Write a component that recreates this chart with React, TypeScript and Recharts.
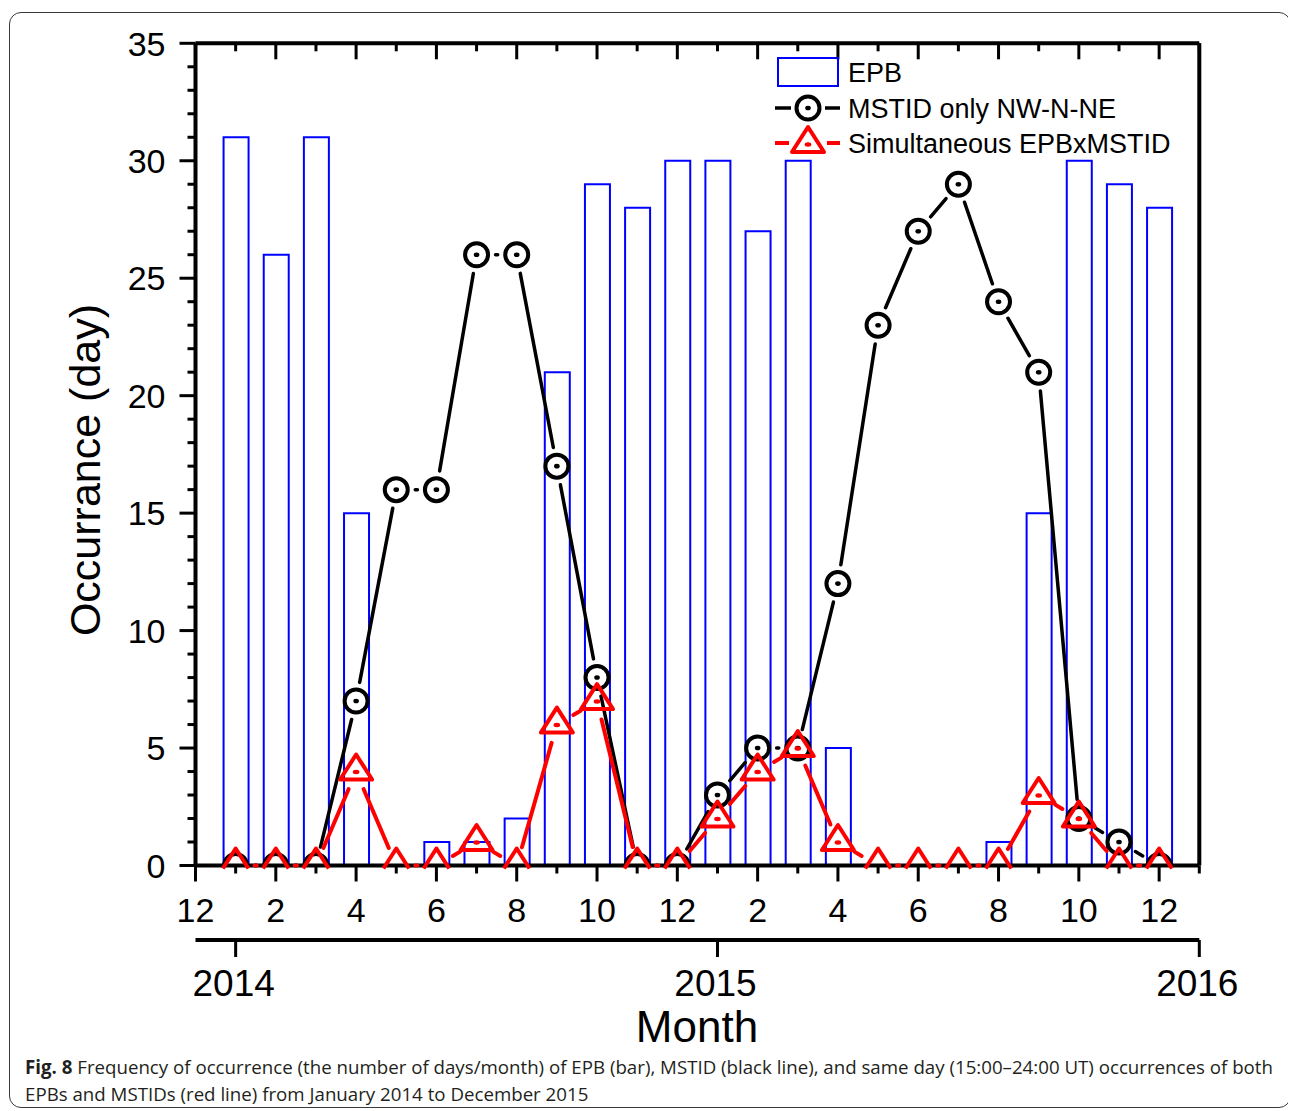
import React from 'react';
import { ComposedChart, Bar, Line, XAxis, YAxis } from 'recharts';

// ---- data ----
// month index: 1 = Jan 2014 ... 24 = Dec 2015 (0 = Dec 2013, 25 = Jan 2016)
const months = [1, 2, 3, 4, 5, 6, 7, 8, 9, 10, 11, 12, 13, 14, 15, 16, 17, 18, 19, 20, 21, 22, 23, 24];
const epbDays = [31, 26, 31, 15, 0, 1, 1, 2, 21, 29, 28, 30, 30, 27, 30, 5, 0, 0, 0, 1, 15, 30, 29, 28];
const mstidDays = [0, 0, 0, 7, 16, 16, 26, 26, 17, 8, 0, 0, 3, 5, 5, 12, 23, 27, 29, 24, 21, 2, 1, 0];
const simultaneousDays = [0, 0, 0, 4, 0, 0, 1, 0, 6, 7, 0, 0, 2, 4, 5, 1, 0, 0, 0, 0, 3, 2, 0, 0];

const monthAxisTicks = [0, 1, 2, 3, 4, 5, 6, 7, 8, 9, 10, 11, 12, 13, 14, 15, 16, 17, 18, 19, 20, 21, 22, 23, 24, 25];
const monthLabelTicks = [0, 2, 4, 6, 8, 10, 12, 14, 16, 18, 20, 22, 24];
const monthTickLabels = ['12', '2', '4', '6', '8', '10', '12', '2', '4', '6', '8', '10', '12'];
const yearTicks = [1, 13, 25];
const yearTickLabels = ['2014', '2015', '2016'];
const yAxisTicks = [0, 1, 2, 3, 4, 5, 6, 7, 8, 9, 10, 11, 12, 13, 14, 15, 16, 17, 18, 19, 20, 21, 22, 23, 24, 25, 26, 27, 28, 29, 30, 31, 32, 33, 34, 35];
const yMajorTicks = [0, 5, 10, 15, 20, 25, 30, 35];

const seriesNames = ['EPB', 'MSTID only NW-N-NE', 'Simultaneous EPBxMSTID'];
const yTitle = 'Occurrance (day)';
const xTitle = 'Month';

const data = months.map((m, i) => ({
  month: m,
  epb: epbDays[i],
  mstid: mstidDays[i],
  sim: simultaneousDays[i],
}));

// ---- styling ----
const FONT = '"Liberation Sans", Arial, Helvetica, sans-serif';
const BLUE = '#0000ff';
const RED = '#ff0000';
const BLACK = '#000000';
const AXIS_W = 4;
const TICK_W = 3;
const MAJOR_LEN = 16;
const MINOR_LEN = 8;
const GAP = 19;
const CIRCLE_R = 11.5;

const W = 1288;
const H = 1040;

// ---- ticks ----
const LeftTick = (props: any) => {
  const { x, y, payload } = props;
  const v = payload.value;
  const major = yMajorTicks.includes(v);
  return (
    <g>
      <line x1={x} x2={x - (major ? MAJOR_LEN : MINOR_LEN)} y1={y} y2={y} stroke={BLACK} strokeWidth={TICK_W} />
      {major && (
        <text x={x - 30} y={y} dy="0.36em" textAnchor="end" fontSize={34} fontFamily={FONT} fill={BLACK}>
          {v}
        </text>
      )}
    </g>
  );
};

const RightTick = (props: any) => {
  const { x, y, payload } = props;
  const major = yMajorTicks.includes(payload.value);
  return <line x1={x} x2={x - (major ? MAJOR_LEN : MINOR_LEN)} y1={y} y2={y} stroke={BLACK} strokeWidth={TICK_W} />;
};

const BottomTick = (props: any) => {
  const { x, y, payload } = props;
  const idx = monthLabelTicks.indexOf(payload.value);
  const major = idx >= 0;
  return (
    <g>
      <line x1={x} x2={x} y1={y} y2={y + (major ? MAJOR_LEN : MINOR_LEN)} stroke={BLACK} strokeWidth={TICK_W} />
      {major && (
        <text x={x} y={y + 56} textAnchor="middle" fontSize={34} fontFamily={FONT} fill={BLACK}>
          {monthTickLabels[idx]}
        </text>
      )}
    </g>
  );
};

const TopTick = (props: any) => {
  const { x, y, payload } = props;
  const major = monthLabelTicks.includes(payload.value);
  return <line x1={x} x2={x} y1={y} y2={y + (major ? MAJOR_LEN : MINOR_LEN)} stroke={BLACK} strokeWidth={TICK_W} />;
};

const YearTick = (props: any) => {
  const { x, y, payload } = props;
  const idx = yearTicks.indexOf(payload.value);
  return (
    <g>
      <line x1={x} x2={x} y1={y} y2={y + 17} stroke={BLACK} strokeWidth={TICK_W} />
      <text x={x - 2} y={y + 56} textAnchor="middle" fontSize={37} fontFamily={FONT} fill={BLACK}>
        {yearTickLabels[idx]}
      </text>
    </g>
  );
};

// ---- markers ----
const circleMarker = (cx: number, cy: number, zero: boolean, key?: string) => (
  <g key={key}>
    {zero ? (
      <path d={`M ${cx - CIRCLE_R} ${cy} A ${CIRCLE_R} ${CIRCLE_R} 0 0 1 ${cx + CIRCLE_R} ${cy}`} fill="none" stroke={BLACK} strokeWidth={4} />
    ) : (
      <>
        <circle cx={cx} cy={cy} r={CIRCLE_R} fill="none" stroke={BLACK} strokeWidth={4} />
        <ellipse cx={cx} cy={cy} rx={2.8} ry={2.3} fill={BLACK} />
      </>
    )}
  </g>
);

const triangleMarker = (cx: number, cy: number, zero: boolean, key?: string) => {
  const top = 17;
  const bottom = 8;
  const hw = 16;
  if (zero) {
    const ext = 3;
    const hz = (hw * (top + ext)) / (top + bottom);
    return (
      <path key={key} d={`M ${cx - hz} ${cy + ext} L ${cx} ${cy - top} L ${cx + hz} ${cy + ext}`} fill="none" stroke={RED} strokeWidth={4} strokeLinejoin="round" />
    );
  }
  return (
    <g key={key}>
      <path d={`M ${cx - hw} ${cy + bottom} L ${cx} ${cy - top} L ${cx + hw} ${cy + bottom} Z`} fill="none" stroke={RED} strokeWidth={4} strokeLinejoin="round" />
      <ellipse cx={cx} cy={cy + 0.5} rx={3.3} ry={2.2} fill={RED} />
    </g>
  );
};

const makeDot = (kind: 'circle' | 'triangle', color: string, width: number) => (props: any) => {
  const { cx, cy, index, points, value } = props;
  const zero = Array.isArray(value) ? value[1] === 0 : value === 0;
  let seg: React.ReactNode = null;
  if (points && index < points.length - 1) {
    const p = points[index];
    const q = points[index + 1];
    const dx = q.x - p.x;
    const dy = q.y - p.y;
    const len = Math.sqrt(dx * dx + dy * dy);
    if (len > 2 * GAP) {
      const ux = dx / len;
      const uy = dy / len;
      seg = (
        <line
          x1={p.x + ux * GAP}
          y1={p.y + uy * GAP}
          x2={q.x - ux * GAP}
          y2={q.y - uy * GAP}
          stroke={color}
          strokeWidth={width}
          strokeLinecap="round"
        />
      );
    }
  }
  return (
    <g key={`dot-${kind}-${index}`}>
      {seg}
      {kind === 'circle' ? circleMarker(cx, cy, zero) : triangleMarker(cx, cy, zero)}
    </g>
  );
};

const blackDot = makeDot('circle', BLACK, 3.5);
const redDot = makeDot('triangle', RED, 4);

// ---- legend / titles overlay ----
const OVERLAY_H = 1095;
const LegendOverlay = () => {
  const sx0 = 767;
  const sx1 = 832;
  const mx = 800;
  const tx = 840;
  const rows = [64, 100, 135];
  return (
    <svg width={W} height={OVERLAY_H} style={{ position: 'absolute', left: 0, top: 0, pointerEvents: 'none' }}>
      <rect x={770} y={rows[0] - 14} width={60} height={28} fill="none" stroke={BLUE} strokeWidth={2} />
      <line x1={sx0} x2={mx - 17} y1={rows[1]} y2={rows[1]} stroke={BLACK} strokeWidth={3.5} />
      <line x1={mx + 17} x2={sx1} y1={rows[1]} y2={rows[1]} stroke={BLACK} strokeWidth={3.5} />
      {circleMarker(mx, rows[1], false)}
      <line x1={sx0} x2={mx - 19} y1={rows[2]} y2={rows[2]} stroke={RED} strokeWidth={4} />
      <line x1={mx + 19} x2={sx1} y1={rows[2]} y2={rows[2]} stroke={RED} strokeWidth={4} />
      {triangleMarker(mx, rows[2] + 1, false)}
      {seriesNames.map((n, i) => (
        <text key={n} x={tx} y={rows[i]} dy="0.36em" fontSize={27} fontFamily={FONT} fill={BLACK}>
          {n}
        </text>
      ))}
      <text
        x={0}
        y={0}
        transform={`translate(77 462) rotate(-90)`}
        textAnchor="middle"
        dy="0.36em"
        fontSize={43}
        fontFamily={FONT}
        fill={BLACK}
      >
        {yTitle}
      </text>
      <text x={689} y={1034} textAnchor="middle" fontSize={44} fontFamily={FONT} fill={BLACK}>
        {xTitle}
      </text>
    </svg>
  );
};

export default function App() {
  return (
    <div style={{ position: 'relative', width: 1288, height: 1103 }}>
      <div
        style={{
          position: 'absolute',
          left: 1,
          top: 4,
          width: 1282,
          height: 1096,
          border: '1.5px solid #3a3a3a',
          borderRadius: 12,
          boxSizing: 'border-box',
        }}
      />
      <div style={{ position: 'absolute', left: 0, top: 0 }}>
        <ComposedChart
          width={W}
          height={H}
          data={data}
          margin={{ top: 34.3, right: 95.7, left: 67.5, bottom: 48 }}
        >
          <XAxis
            xAxisId="month"
            dataKey="month"
            type="number"
            domain={[0, 25]}
            ticks={monthAxisTicks}
            interval={0}
            height={74.5}
            tickSize={0}
            tickMargin={0}
            tickLine={false}
            tick={BottomTick}
            axisLine={{ stroke: BLACK, strokeWidth: AXIS_W }}
            allowDecimals={false}
          />
          <XAxis
            xAxisId="year"
            dataKey="month"
            type="number"
            domain={[0, 25]}
            ticks={yearTicks}
            interval={0}
            height={60}
            tickSize={0}
            tickMargin={0}
            tickLine={false}
            tick={YearTick}
            axisLine={{ stroke: BLACK, strokeWidth: AXIS_W }}
          />
          <XAxis
            xAxisId="top"
            orientation="top"
            dataKey="month"
            type="number"
            domain={[0, 25]}
            ticks={monthAxisTicks}
            interval={0}
            height={1}
            tickSize={0}
            tickMargin={0}
            tickLine={false}
            tick={TopTick}
            axisLine={{ stroke: BLACK, strokeWidth: AXIS_W }}
          />
          <YAxis
            yAxisId="left"
            type="number"
            domain={[0, 35]}
            ticks={yAxisTicks}
            interval={0}
            width={120}
            tickSize={0}
            tickMargin={0}
            tickLine={false}
            tick={LeftTick}
            axisLine={{ stroke: BLACK, strokeWidth: AXIS_W }}
          />
          <YAxis
            yAxisId="right"
            orientation="right"
            type="number"
            domain={[0, 35]}
            ticks={yAxisTicks}
            interval={0}
            width={1}
            tickSize={0}
            tickMargin={0}
            tickLine={false}
            tick={RightTick}
            axisLine={{ stroke: BLACK, strokeWidth: AXIS_W }}
          />
          <Bar
            xAxisId="month"
            yAxisId="left"
            dataKey="epb"
            barSize={25}
            fill="none"
            stroke={BLUE}
            strokeWidth={2}
            isAnimationActive={false}
          />
          <Line
            xAxisId="month"
            yAxisId="left"
            type="linear"
            dataKey="mstid"
            stroke="none"
            dot={blackDot}
            activeDot={false}
            isAnimationActive={false}
          />
          <Line
            xAxisId="month"
            yAxisId="left"
            type="linear"
            dataKey="sim"
            stroke="none"
            dot={redDot}
            activeDot={false}
            isAnimationActive={false}
          />
        </ComposedChart>
      </div>
      <LegendOverlay />
      <div
        style={{
          position: 'absolute',
          left: 17,
          top: 1045,
          fontFamily: '"Open Sans", "Noto Sans", sans-serif',
          fontSize: 18.7,
          lineHeight: '27px',
          color: '#231f20',
          whiteSpace: 'nowrap',
        }}
      >
        <div>
          <b>Fig. 8</b> Frequency of occurrence (the number of days/month) of EPB (bar), MSTID (black line), and same day (15:00–24:00 UT) occurrences of both
        </div>
        <div>EPBs and MSTIDs (red line) from January 2014 to December 2015</div>
      </div>
    </div>
  );
}
